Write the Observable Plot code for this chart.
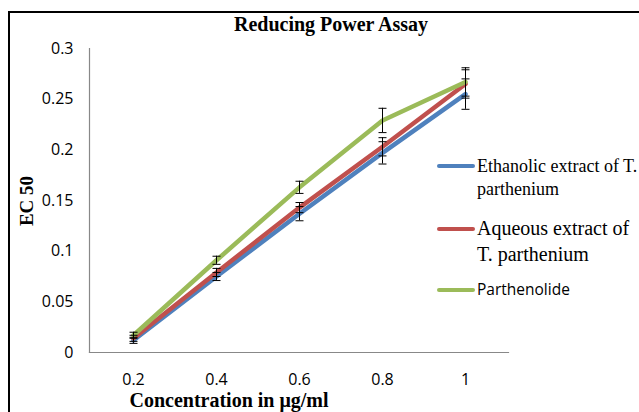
<!DOCTYPE html>
<html>
<head>
<meta charset="utf-8">
<script src="https://cdn.jsdelivr.net/npm/d3@7"></script>
<script src="https://cdn.jsdelivr.net/npm/@observablehq/plot@0.6"></script>
<style>
  html, body { margin: 0; padding: 0; background: #fff; overflow: hidden; }
  #wrap { position: relative; width: 639px; height: 412px; overflow: hidden; }
  #frame { position: absolute; left: 8px; top: 11px; width: 700px; height: 500px; border: 2.5px solid #000; box-sizing: border-box; }
  #chart { position: absolute; left: 0; top: 0; }
  .t { position: absolute; white-space: nowrap; color: #000; }
  .serif { font-family: "Liberation Serif", "Times New Roman", serif; }
  .sans { font-family: "Open Sans", "Liberation Sans", sans-serif; }
  .sw { position: absolute; height: 4px; width: 38px; border-radius: 2px; }
</style>
</head>
<body>
<div id="wrap">
  <div id="frame"></div>
  <div id="chart"></div>
  <div class="t serif" style="left:331px; top:13px; transform:translateX(-50%); font-size:20px; font-weight:bold;">Reducing Power Assay</div>
  <div class="t serif" style="left:229px; top:389px; transform:translateX(-50%); font-size:20px; font-weight:bold;">Concentration in μg/ml</div>
  <div class="t serif" style="left:27px; top:201px; transform:translate(-50%,-50%) rotate(-90deg); font-size:19px; font-weight:bold;">EC 50</div>
  <div id="legend"></div>
</div>
<script>
const concentrations = ["0.2", "0.4", "0.6", "0.8", "1"];
const seriesNames = ["Ethanolic extract of T. parthenium", "Aqueous extract of T. parthenium", "Parthenolide"];
const ethanolic = [0.012, 0.075, 0.137, 0.197, 0.255];
const aqueous = [0.014, 0.079, 0.143, 0.203, 0.265];
const parthenolide = [0.017, 0.091, 0.163, 0.229, 0.267];
const ethanolicErr = [0.003, 0.004, 0.007, 0.011, 0.015];
const aqueousErr = [0.003, 0.004, 0.005, 0.009, 0.014];
const parthenolideErr = [0.003, 0.004, 0.006, 0.012, 0.014];
const yTicks = [0, 0.05, 0.1, 0.15, 0.2, 0.25, 0.3];
const colors = ["#4F81BD", "#C0504D", "#9BBB59"];

const values = [ethanolic, aqueous, parthenolide];
const errs = [ethanolicErr, aqueousErr, parthenolideErr];
const data = [];
seriesNames.forEach((s, i) => {
  concentrations.forEach((c, j) => {
    data.push({series: s, x: c, y: values[i][j], lo: values[i][j] - errs[i][j], hi: values[i][j] + errs[i][j]});
  });
});

const capSymbol = {
  draw(context) {
    context.moveTo(-4, 0);
    context.lineTo(4, 0);
  }
};

const plot = Plot.plot({
  width: 639,
  height: 412,
  marginLeft: 89,
  marginRight: 131,
  marginTop: 48,
  marginBottom: 60,
  style: {fontFamily: "'Open Sans', 'Liberation Sans', sans-serif", fontSize: "16px", color: "#000", background: "transparent"},
  x: {type: "point", domain: concentrations, padding: 0.5, axis: null},
  y: {domain: [0, 0.3], axis: null},
  color: {domain: seriesNames, range: colors},
  marks: [
    Plot.axisY({ticks: yTicks, tickSize: 0, tickPadding: 16, tickFormat: d => String(d), fontSize: 16, label: null}),
    Plot.axisX({anchor: "bottom", tickSize: 0, tickPadding: 21, fontSize: 16, label: null}),
    Plot.frame({anchor: "left", stroke: "#888", strokeWidth: 1.2}),
    Plot.frame({anchor: "bottom", stroke: "#888", strokeWidth: 1.2}),
    Plot.line(data, {x: "x", y: "y", z: "series", stroke: "series", strokeWidth: 4.5, strokeLinejoin: "round"}),
    Plot.ruleX(data, {x: "x", y1: "lo", y2: "hi", stroke: "#000", strokeWidth: 1}),
    Plot.dot(data, {x: "x", y: "lo", symbol: capSymbol, stroke: "#000", fill: "none", strokeWidth: 1}),
    Plot.dot(data, {x: "x", y: "hi", symbol: capSymbol, stroke: "#000", fill: "none", strokeWidth: 1})
  ]
});
document.getElementById("chart").appendChild(plot);

// legend
const legend = document.getElementById("legend");
const legendRows = [
  {color: colors[0], lineY: 166, cls: "serif", size: 18, lines: ["Ethanolic extract of T.", "parthenium"], top: 155, lh: 23},
  {color: colors[1], lineY: 229, cls: "serif", size: 20, lines: ["Aqueous extract of", "T. parthenium"], top: 215, lh: 26},
  {color: colors[2], lineY: 290, cls: "sans", size: 15.5, lines: [seriesNames[2]], top: 279, lh: 20}
];
legendRows.forEach(r => {
  const sw = document.createElement("div");
  sw.className = "sw";
  sw.style.left = "437px"; sw.style.top = (r.lineY - 2) + "px"; sw.style.background = r.color;
  legend.appendChild(sw);
  const t = document.createElement("div");
  t.className = "t " + r.cls;
  t.style.left = "477px"; t.style.top = r.top + "px"; t.style.fontSize = r.size + "px"; t.style.lineHeight = r.lh + "px";
  t.innerHTML = r.lines.join("<br>");
  legend.appendChild(t);
});
</script>
</body>
</html>
